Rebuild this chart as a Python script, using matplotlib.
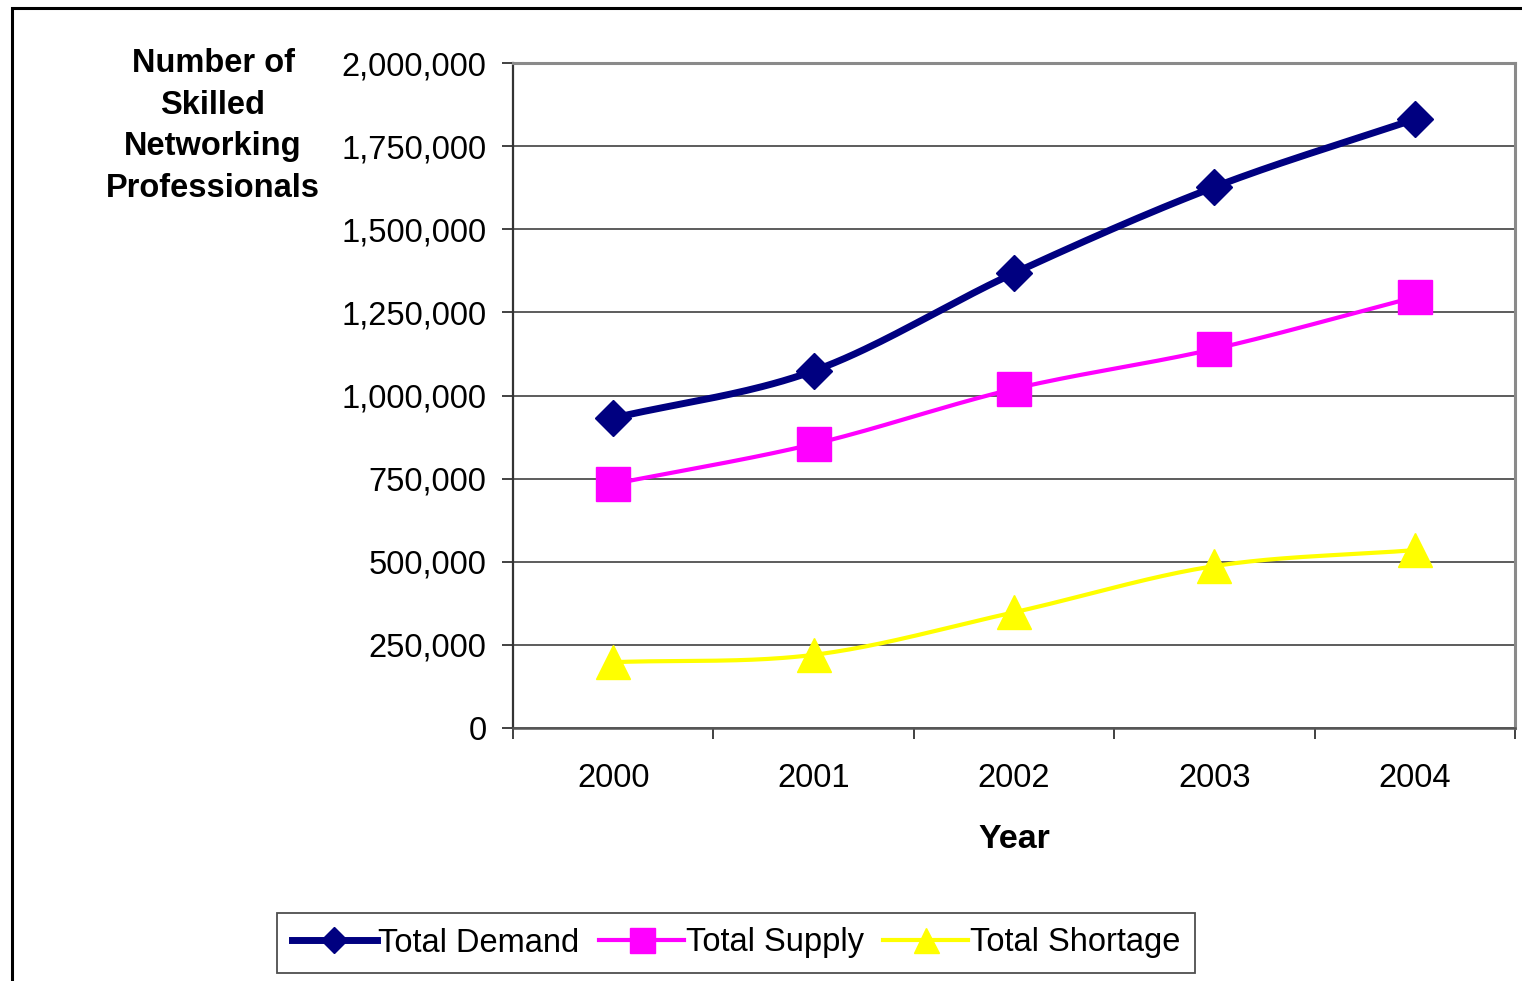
import numpy as np
import matplotlib
matplotlib.use("Agg")
import matplotlib.pyplot as plt
from matplotlib.patches import Rectangle
from matplotlib.lines import Line2D

plt.rcParams['font.family'] = ['Liberation Sans', 'DejaVu Sans']

years = ["2000", "2001", "2002", "2003", "2004"]
demand = [932000, 1074000, 1368000, 1627000, 1831000]
supply = [734000, 854000, 1020000, 1140000, 1296000]
shortage = [198000, 220000, 348000, 487000, 535000]
yticks = [0, 250000, 500000, 750000, 1000000, 1250000, 1500000, 1750000, 2000000]


def smooth(xs, ys, n=40):
    # Catmull-Rom style smoothing, like a spreadsheet "smoothed line"
    xs = np.asarray(xs, float)
    ys = np.asarray(ys, float)
    px = np.concatenate([[2 * xs[0] - xs[1]], xs, [2 * xs[-1] - xs[-2]]])
    py = np.concatenate([[2 * ys[0] - ys[1]], ys, [2 * ys[-1] - ys[-2]]])
    ox, oy = [], []
    for i in range(1, len(px) - 2):
        p0, p1, p2, p3 = (np.array([px[j], py[j]]) for j in range(i - 1, i + 3))
        c1 = p1 + (p2 - p0) / 6.0
        c2 = p2 - (p3 - p1) / 6.0
        t = np.linspace(0, 1, n)[:, None]
        b = ((1 - t) ** 3) * p1 + 3 * ((1 - t) ** 2) * t * c1 + 3 * (1 - t) * t ** 2 * c2 + t ** 3 * p2
        ox.extend(b[:, 0]); oy.extend(b[:, 1])
    return np.array(ox), np.array(oy)


fig = plt.figure(figsize=(15.22, 9.81), dpi=100)
W, H = 1522, 981
ax = fig.add_axes([513 / W, 1 - 728 / H, (1515 - 513) / W, (728 - 63) / H])

x = np.arange(len(years))
series = [
    (demand, '#000080', 5.0, 'D', 18, 'Total Demand'),
    (supply, '#FF00FF', 3.0, 's', 24, 'Total Supply'),
    (shortage, '#FFFF00', 3.0, '^', 24, 'Total Shortage'),
]
handles = []
for vals, col, lw, mk, ms, lab in series:
    sx, sy = smooth(x, vals)
    ax.plot(sx, sy, color=col, lw=lw, solid_capstyle='round', zorder=3)
    ax.plot(x, vals, ls='none', marker=mk, ms=ms, color=col, mec=col, zorder=4)
    handles.append(Line2D([], [], color=col, lw=lw, marker=mk, ms=ms * 0.75, mec=col))

ax.set_xlim(-0.5, 4.5)
ax.set_ylim(0, 2000000)
ax.set_yticks(yticks)
ax.set_yticklabels([f"{v:,}" for v in yticks])
ax.set_xticks(x)
ax.set_xticklabels(years)
ax.set_xticks(np.arange(-0.5, 5.0, 1.0), minor=True)
ax.tick_params(axis='x', which='major', length=0, pad=25, labelsize=23.5)
ax.tick_params(axis='x', which='minor', length=8, width=1.3, color='#333333', direction='out')
ax.tick_params(axis='y', length=8, width=1.3, color='#333333', pad=11, labelsize=23.5)
ax.yaxis.grid(True, color='#303030', lw=1.1)
ax.set_axisbelow(True)
for s in ['top', 'right']:
    ax.spines[s].set_color('#8a8a8a')
    ax.spines[s].set_linewidth(2.2)
ax.spines['left'].set_color('#333333')
ax.spines['left'].set_linewidth(1.6)
ax.spines['bottom'].set_color('#555555')
ax.spines['bottom'].set_linewidth(1.8)

fig.text(213 / W, 1 - 126 / H, "Number of\nSkilled\nNetworking\nProfessionals",
         ha='center', va='center', ma='center', fontsize=23.5, fontweight='bold',
         linespacing=1.45)
fig.text(1014 / W, 1 - 839 / H, "Year", ha='center', va='center', fontsize=24.5,
         fontweight='bold')

leg = fig.legend(handles=handles, labels=[s[5] for s in series], loc='center',
                 bbox_to_anchor=(736 / W, 1 - 943 / H), ncol=3, fontsize=23.5,
                 frameon=True, fancybox=False, edgecolor='#222222',
                 handlelength=2.6, handletextpad=0.05, columnspacing=0.6,
                 borderpad=0.45, borderaxespad=0)
leg.get_frame().set_linewidth(1.3)

fig.patches.append(Rectangle((12 / W, -0.1), 1.2, 1 - 8 / H + 0.1, transform=fig.transFigure,
                             fill=False, edgecolor='black', lw=2.2))

fig.savefig("out.png", dpi=100)
